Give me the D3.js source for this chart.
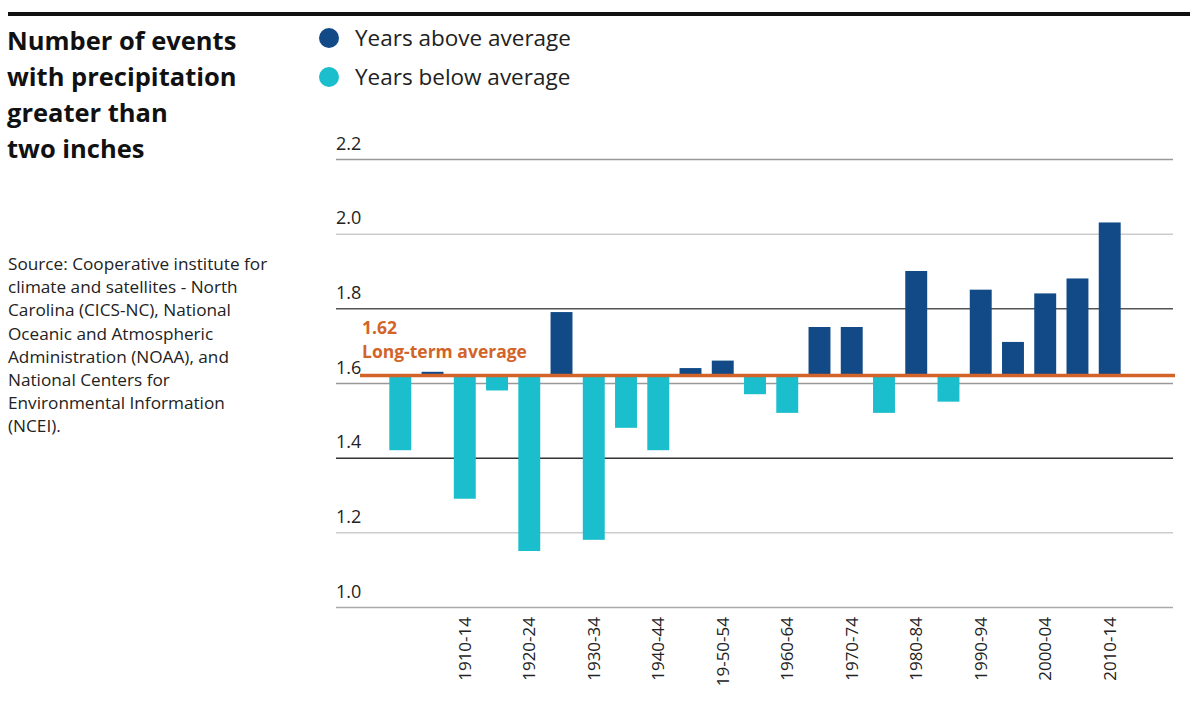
<!DOCTYPE html>
<html>
<head>
<meta charset="utf-8">
<script src="https://cdn.jsdelivr.net/npm/d3@7"></script>
<style>
body { margin: 0; background: #fff; }
text { font-family: "Open Sans", Lato, sans-serif; }
</style>
</head>
<body>
<div id="chart"></div>
<script>

var periods = ["1900-04", "1905-09", "1910-14", "1915-19", "1920-24", "1925-29", "1930-34", "1935-39",
	"1940-44", "1945-49", "1950-54", "1955-59", "1960-64", "1965-69", "1970-74", "1975-79",
	"1980-84", "1985-89", "1990-94", "1995-99", "2000-04", "2005-09", "2010-14"];

var events = [1.42, 1.63, 1.29, 1.58, 1.15, 1.79, 1.18, 1.48,
	1.42, 1.64, 1.66, 1.57, 1.52, 1.75, 1.75, 1.52,
	1.90, 1.55, 1.85, 1.71, 1.84, 1.88, 2.03];

// only every other period gets a label (the 1950s one is spelled that way in the original)
var tickPeriods = ["1910-14", "1920-24", "1930-34", "1940-44", "1950-54", "1960-64",
	"1970-74", "1980-84", "1990-94", "2000-04", "2010-14"];
var tickLabels = ["1910-14", "1920-24", "1930-34", "1940-44", "19-50-54", "1960-64",
	"1970-74", "1980-84", "1990-94", "2000-04", "2010-14"];

var yTicks = [1.0, 1.2, 1.4, 1.6, 1.8, 2.0, 2.2];
var gridColors = ["#aaa", "#ccc", "#333", "#999", "#555", "#ccc", "#999"];

var average = 1.62;

var titleLines = ["Number of events", "with precipitation", "greater than", "two inches"];
var sourceLines = ["Source: Cooperative institute for", "climate and satellites - North",
	"Carolina (CICS-NC), National", "Oceanic and Atmospheric", "Administration (NOAA), and",
	"National Centers for", "Environmental Information", "(NCEI)."];

var legendLabels = ["Years above average", "Years below average"];

var aboveColor = "#114a87";
var belowColor = "#1bbecd";
var avgColor = "#d2642a";

var svg = d3.select("#chart")
	.append("svg")
	.attr("width", 1190)
	.attr("height", 711);

// top rule
svg.append("line")
	.attr("x1", 8)
	.attr("x2", 1190)
	.attr("y1", 14)
	.attr("y2", 14)
	.style("stroke", "#111")
	.style("stroke-width", 4);

svg.append("g").selectAll("text")
	.data(titleLines)
	.join("text")
	.attr("x", 7)
	.attr("y", function(d, i){ return 50 + i * 36; })
	.attr("font-size", 25.5)
	.attr("font-weight", 700)
	.attr("fill", "#111")
	.text(function(d){ return d; });

svg.append("g").selectAll("text")
	.data(sourceLines)
	.join("text")
	.attr("x", 8)
	.attr("y", function(d, i){ return 270 + i * 23.2; })
	.attr("font-size", 17.2)
	.attr("fill", "#222")
	.text(function(d){ return d; });

var legend = svg.append("g").selectAll("g")
	.data(legendLabels)
	.join("g")
	.attr("transform", function(d, i){ return "translate(329," + (38 + i * 39) + ")"; });

legend.append("circle")
	.attr("r", 10)
	.attr("fill", function(d, i){ return i == 0 ? aboveColor : belowColor; });

legend.append("text")
	.attr("x", 26)
	.attr("y", 8)
	.attr("font-size", 22.5)
	.attr("fill", "#222")
	.text(function(d){ return d; });

var x = d3.scaleBand()
	.domain(periods)
	.range([379, 1131])
	.padding(0.32);

var y = d3.scaleLinear()
	.domain([1.0, 2.2])
	.range([607, 159]);

var gridLeft = 336, gridRight = 1173;

var yAxis = svg.append("g")
	.attr("transform", "translate(" + gridLeft + ",0)")
	.call(d3.axisRight(y).tickValues(yTicks).tickSize(gridRight - gridLeft).tickFormat(d3.format(".1f")));

yAxis.select(".domain").remove();
yAxis.selectAll(".tick line")
	.style("stroke", function(d, i){ return gridColors[i]; })
	.style("stroke-width", 1.5);
yAxis.selectAll(".tick text")
	.attr("x", 0)
	.attr("dy", -10)
	.attr("font-size", 18)
	.attr("font-family", "'Open Sans', sans-serif")
	.attr("fill", "#222")
	.attr("text-anchor", "start");

svg.append("g").selectAll("rect")
	.data(events)
	.join("rect")
	.attr("x", function(d, i){ return x(periods[i]); })
	.attr("width", x.bandwidth())
	.attr("y", function(d){ return Math.min(y(d), y(average)); })
	.attr("height", function(d){ return Math.abs(y(d) - y(average)); })
	.attr("fill", function(d){ return d >= average ? aboveColor : belowColor; });

// long-term average
svg.append("line")
	.attr("x1", 360)
	.attr("x2", 1175)
	.attr("y1", y(average))
	.attr("y2", y(average))
	.style("stroke", avgColor)
	.style("stroke-width", 3.5);

svg.append("text")
	.attr("x", 362)
	.attr("y", 334)
	.attr("font-size", 17.5)
	.attr("font-weight", 700)
	.attr("fill", avgColor)
	.text(d3.format(".2f")(average));

svg.append("text")
	.attr("x", 362)
	.attr("y", 358)
	.attr("font-size", 17.5)
	.attr("font-weight", 700)
	.attr("fill", avgColor)
	.text("Long-term average");

var xAxis = svg.append("g")
	.attr("transform", "translate(0,617)")
	.call(d3.axisBottom(x).tickValues(tickPeriods).tickSize(0)
		.tickFormat(function(d){ return tickLabels[tickPeriods.indexOf(d)]; }));

xAxis.select(".domain").remove();
xAxis.selectAll(".tick text")
	.attr("transform", "rotate(-90)")
	.attr("x", 0)
	.attr("y", 0)
	.attr("dy", "0.35em")
	.attr("text-anchor", "end")
	.attr("font-size", 17)
	.attr("font-family", "'Open Sans', sans-serif")
	.attr("fill", "#222");

</script>
</body>
</html>
